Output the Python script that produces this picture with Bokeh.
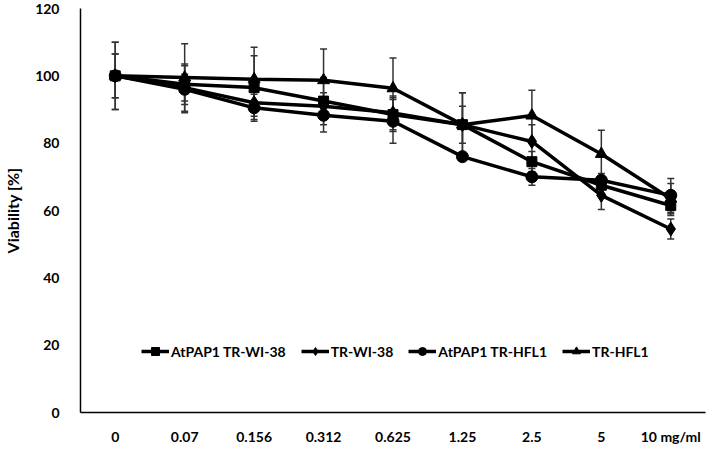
from bokeh.plotting import figure
from bokeh.models import (ColumnDataSource, Whisker, TeeHead, Range1d, FactorRange,
                          FixedTicker, Legend, LegendItem)
from bokeh.embed import file_html
from bokeh.resources import INLINE

categories = ["0", "0.07", "0.156", "0.312", "0.625", "1.25", "2.5", "5", "10 mg/ml"]

names = ["AtPAP1 TR-WI-38", "TR-WI-38", "AtPAP1 TR-HFL1", "TR-HFL1"]
sq_vals = [100, 97.5, 96.5, 92.5, 88.5, 85.5, 74.5, 67.5, 61.5]
di_vals = [100, 96.5, 92.0, 91.0, 89.0, 85.5, 80.5, 64.5, 54.5]
ci_vals = [100, 96.0, 90.5, 88.3, 86.5, 76.0, 70.0, 69.0, 64.5]
tr_vals = [100, 99.5, 99.0, 98.7, 96.3, 85.5, 88.2, 76.8, 63.5]

sq_err = [6.5, 6.0, 9.5, 7.0, 5.0, 9.5, 3.0, 2.5, 3.0]
di_err = [6.5, 4.0, 4.0, 4.0, 5.0, 5.5, 5.0, 4.2, 3.0]
ci_err = [10.0, 7.0, 4.0, 5.0, 6.5, 1.0, 2.5, 2.0, 5.0]
tr_err = [10.0, 10.0, 9.5, 9.3, 9.0, 9.5, 7.5, 7.0, 4.5]

y_ticks = [0, 20, 40, 60, 80, 100, 120]

FONT = "Lato"

p = figure(x_range=FactorRange(factors=categories), y_range=Range1d(0, 120),
           width=700, height=438, output_backend="svg", toolbar_location=None,
           min_border_left=71, min_border_right=4, min_border_top=8, min_border_bottom=26)
p.frame_width = 625
p.frame_height = 404
p.outline_line_color = None
p.xgrid.grid_line_color = None
p.ygrid.grid_line_color = None

for ax in (p.xaxis[0], p.yaxis[0]):
    ax.axis_line_color = "black"
    ax.axis_line_width = 1.5
    ax.major_tick_line_color = None
    ax.minor_tick_line_color = None
    ax.major_label_text_font = FONT
    ax.major_label_text_font_style = "bold"
    ax.major_label_text_font_size = "14px"
    ax.major_label_text_color = "black"
p.yaxis.ticker = FixedTicker(ticks=y_ticks)
p.yaxis.major_label_standoff = 15
p.xaxis.major_label_standoff = 9
p.yaxis.axis_label = "Viability [%]"
p.yaxis.axis_label_text_font = FONT
p.yaxis.axis_label_text_font_style = "bold"
p.yaxis.axis_label_text_font_size = "16px"
p.yaxis.axis_label_text_color = "black"
p.yaxis.axis_label_standoff = 10

markers = ["square", "diamond", "circle", "triangle"]
sizes = [10, 14, 12, 12]
series = [(sq_vals, sq_err), (di_vals, di_err), (ci_vals, ci_err), (tr_vals, tr_err)]

for vals, errs in series:
    src = ColumnDataSource(dict(x=categories,
                                upper=[v + e for v, e in zip(vals, errs)],
                                lower=[v - e for v, e in zip(vals, errs)]))
    w = Whisker(base="x", upper="upper", lower="lower", source=src, dimension="height",
                line_color="#333333", line_width=1.5,
                upper_head=TeeHead(size=7, line_color="#333333", line_width=1.5),
                lower_head=TeeHead(size=7, line_color="#333333", line_width=1.5))
    p.add_layout(w)

items = []
for (vals, errs), name, mk, sz in zip(series, names, markers, sizes):
    src = ColumnDataSource(dict(x=categories, y=vals))
    l = p.line("x", "y", source=src, line_color="black", line_width=3.5)
    s = p.scatter("x", "y", source=src, marker=mk, size=sz, fill_color="black", line_color="black")
    items.append(LegendItem(label=name, renderers=[l, s]))

legend = Legend(items=items, orientation="horizontal", location=(61, 51),
                padding=0, margin=0, spacing=15, glyph_width=28, label_standoff=2,
                border_line_alpha=0, background_fill_alpha=0,
                label_text_font=FONT, label_text_font_style="bold",
                label_text_font_size="14px", label_text_color="black")
p.add_layout(legend)

open("out.html", "w").write(file_html(p, INLINE))
